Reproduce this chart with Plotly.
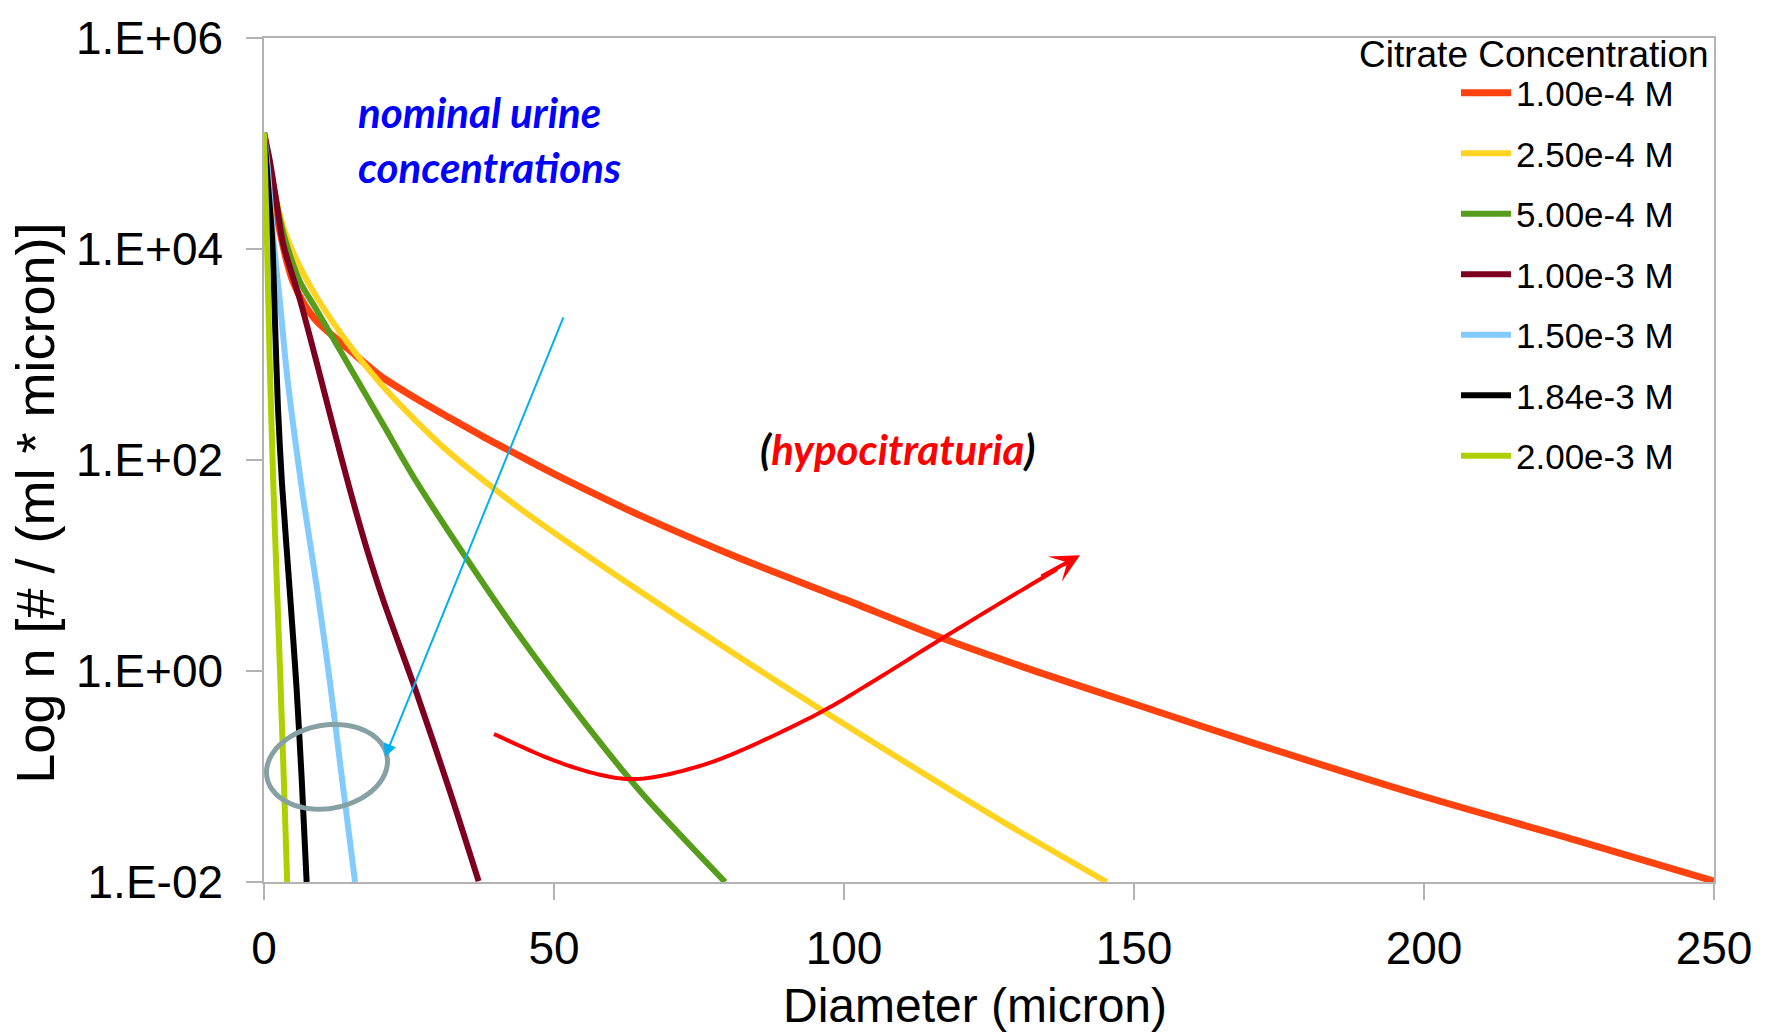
import numpy as np
import plotly.graph_objects as go

# ---------------- data ----------------
series_names = ["1.00e-4 M", "2.50e-4 M", "5.00e-4 M", "1.00e-3 M",
                "1.50e-3 M", "1.84e-3 M", "2.00e-3 M"]

d_100e4 = [0, 1, 2, 3, 4, 5, 7, 9, 15, 20, 26, 32, 38, 44, 50, 58, 65, 82, 100,
           117, 134, 151, 171, 200, 226, 250]
n_100e4 = [1.26e5, 5.25e4, 2.4e4, 1.26e4, 7.4e3, 4.9e3, 2.95e3, 2.09e3, 1.07e3, 631,
           389, 251, 164, 110, 74, 45, 29.5, 11.7, 4.8, 2.04, 0.955, 0.468,
           0.204, 0.0646, 0.0251, 0.0102]

d_250e4 = [0, 1, 2, 3, 4, 6, 9, 15, 20.5, 26.4, 32, 38, 44.7, 55, 65, 82, 95,
           111, 128, 145.3]
n_250e4 = [1.26e5, 6.0e4, 3.16e4, 1.86e4, 1.26e4, 7.1e3, 3.55e3, 1.17e3, 501, 229,
           117, 63, 33, 13.2, 5.6, 1.35, 0.468, 0.132, 0.0355, 0.01]

d_500e4 = [0, 1, 2, 3, 4, 6.2, 9.1, 14.8, 20.5, 26, 35, 43.6, 55, 65, 79.5]
n_500e4 = [1.26e5, 6.0e4, 3.0e4, 1.66e4, 1.05e4, 4.9e3, 2.63e3, 759, 219, 66,
           11.5, 2.34, 0.339, 0.0708, 0.01]

d_100e3 = [0, 1, 2, 3.3, 6.2, 9.1, 12, 14.8, 17.5, 20.5, 26.4, 32.1, 37]
n_100e3 = [1.26e5, 6.9e4, 3.16e4, 1.12e4, 3.3e3, 832, 200, 52.5, 15.8, 4.8, 0.60,
           0.071, 0.0102]

d_150e3 = [0, 0.7, 1.6, 2.8, 3.9, 5.3, 6.8, 9.1, 11.4, 13.4, 15.7]
n_150e3 = [1.26e5, 5.4e4, 1.26e4, 2.95e3, 692, 166, 41.7, 6.3, 0.76, 0.1, 0.01]

d_184e3 = [0, 0.7, 1.4, 1.9, 2.4, 3.1, 4.5, 5.6, 6.5, 7.35]
n_184e3 = [1.26e5, 4.0e4, 1.26e4, 2.0e3, 3.2e2, 60, 5.2, 0.71, 0.095, 0.01]

d_200e3 = [0, 0.5, 1.0, 1.6, 2.2, 2.8, 3.4, 4.0]
n_200e3 = [1.26e5, 1.26e4, 7.9e2, 60, 7.1, 0.89, 0.1, 0.01]

x_ticks = [0, 50, 100, 150, 200, 250]
y_ticks = [1e-2, 1, 1e2, 1e4, 1e6]
y_tick_text = ["1.E-02", "1.E+00", "1.E+02", "1.E+04", "1.E+06"]

# ---------------- style ----------------
colors = ["#ff420e", "#ffd320", "#579d1c", "#7e0021", "#83caff", "#000000", "#aecf00"]
widths = [7, 6, 6, 6, 6, 6, 6]
xs = [d_100e4, d_250e4, d_500e4, d_100e3, d_150e3, d_184e3, d_200e3]
ys = [n_100e4, n_250e4, n_500e4, n_100e3, n_150e3, n_184e3, n_200e3]

W, H = 1768, 1034
ML, MR, MT, MB = 264, 54, 32, 152
PW = W - ML - MR
PH = H - MT - MB
FONT = "Liberation Sans, Arial, sans-serif"
NOTE_FONT = "Lato, Open Sans, sans-serif"
AX = "#b3b3b3"


def paper(px, py):
    return (px - ML) / PW, (H - MB - py) / PH


def catmull(points, steps=12):
    p = [points[0]] + list(points) + [points[-1]]
    out = []
    for i in range(1, len(p) - 2):
        p0, p1, p2, p3 = (np.array(p[i - 1]), np.array(p[i]),
                          np.array(p[i + 1]), np.array(p[i + 2]))
        for s in np.linspace(0, 1, steps, endpoint=False):
            out.append(0.5 * ((2 * p1) + (-p0 + p2) * s +
                              (2 * p0 - 5 * p1 + 4 * p2 - p3) * s ** 2 +
                              (-p0 + 3 * p1 - 3 * p2 + p3) * s ** 3))
    out.append(np.array(points[-1]))
    return out


fig = go.Figure()
for name, x, y, c, w in zip(series_names, xs, ys, colors, widths):
    fig.add_trace(go.Scatter(
        x=x, y=y, name=name, mode="lines", legendgroup=name,
        line=dict(color=c, width=w, shape="spline", smoothing=0.8),
    ))

axis_common = dict(
    showgrid=False, zeroline=False, showline=True, linecolor=AX, linewidth=1.5,
    mirror=True, ticks="outside", ticklen=16, tickwidth=1.5, tickcolor=AX,
    tickfont=dict(family=FONT, size=46, color="black"),
)
fig.update_xaxes(range=[0, 250], tickvals=x_ticks, ticklabelstandoff=9, **axis_common)
fig.update_yaxes(type="log", range=[-2, 6], tickvals=y_ticks, ticktext=y_tick_text,
                 ticklabelstandoff=14, **axis_common)

annotations = []
# axis titles
x0, y0 = paper(975, 1006)
annotations.append(dict(x=x0, y=y0, xref="paper", yref="paper", text="Diameter (micron)",
                        showarrow=False, xanchor="center", yanchor="middle",
                        font=dict(family=FONT, size=48, color="black")))
x0, y0 = paper(35, 501)
annotations.append(dict(x=x0, y=y0, xref="paper", yref="paper",
                        text="Log n [# / (ml * micron)]", textangle=-90,
                        showarrow=False, xanchor="center", yanchor="middle",
                        font=dict(family=FONT, size=54, color="black")))
# legend title
x0, y0 = paper(1711, 48.5)
annotations.append(dict(x=x0, y=y0, xref="paper", yref="paper", text="Citrate Concentration",
                        showarrow=False, xanchor="right", yanchor="middle",
                        font=dict(family=FONT, size=37, color="black")))
# text notes
x0, y0 = paper(356, 134)
annotations.append(dict(x=x0, y=y0, xref="paper", yref="paper",
                        text="<b><i>nominal urine<br>concentrations</i></b>",
                        showarrow=False, xanchor="left", yanchor="middle", align="left",
                        font=dict(family=NOTE_FONT, size=42, color="#0000ff")))
x0, y0 = paper(898, 446)
annotations.append(dict(x=x0, y=y0, xref="paper", yref="paper",
                        text="<b><i>(<span style='color:#ff0000'>hypocitraturia</span>)</i></b>",
                        showarrow=False, xanchor="center", yanchor="middle",
                        font=dict(family=NOTE_FONT, size=42, color="black")))
# blue arrow
x0, y0 = paper(385, 756)
annotations.append(dict(x=x0, y=y0, xref="paper", yref="paper", text="",
                        showarrow=True, ax=179, ay=-441, axref="pixel", ayref="pixel",
                        arrowhead=2, arrowsize=1.3, arrowwidth=2, arrowcolor="#00b0f0"))
# red arrow head
x0, y0 = paper(1080, 553)
annotations.append(dict(x=x0, y=y0, xref="paper", yref="paper", text="",
                        showarrow=True, ax=-40, ay=22, axref="pixel", ayref="pixel",
                        arrowhead=3, arrowsize=1.2, arrowwidth=4, arrowcolor="#ff0000"))

shapes = []
# red curved path
red_ctrl = [(494, 733), (550, 758), (600, 774), (640, 778), (690, 768), (740, 750),
            (817, 713), (873, 680), (940, 638), (1007, 597), (1057, 567)]
pp = [paper(a, b) for a, b in catmull(red_ctrl)]
path = "M " + " L ".join(f"{a:.5f},{b:.5f}" for a, b in pp)
shapes.append(dict(type="path", xref="paper", yref="paper", path=path,
                   line=dict(color="#ff0000", width=4)))
# ellipse
cx, cy, ea, eb, th = 327, 766, 61, 42, np.radians(10)
t = np.linspace(0, 2 * np.pi, 73)
ex = cx + ea * np.cos(t) * np.cos(th) - eb * np.sin(t) * np.sin(th)
ey = cy - (ea * np.cos(t) * np.sin(th) + eb * np.sin(t) * np.cos(th))
ep = [paper(a, b) for a, b in zip(ex, ey)]
epath = "M " + " L ".join(f"{a:.5f},{b:.5f}" for a, b in ep) + " Z"
shapes.append(dict(type="path", xref="paper", yref="paper", path=epath,
                   line=dict(color="#86a0a4", width=5)))

lx, ly = paper(1456, 57.75)
fig.update_layout(
    width=W, height=H, autosize=False,
    margin=dict(l=ML, r=MR, t=MT, b=MB, pad=0),
    paper_bgcolor="white", plot_bgcolor="white",
    showlegend=True,
    legend=dict(x=lx, y=ly, xanchor="left", yanchor="top", bgcolor="rgba(0,0,0,0)",
                borderwidth=0, itemwidth=50, tracegroupgap=12,
                font=dict(family=FONT, size=35, color="black")),
    annotations=annotations, shapes=shapes,
)

fig.write_html("out.html")
